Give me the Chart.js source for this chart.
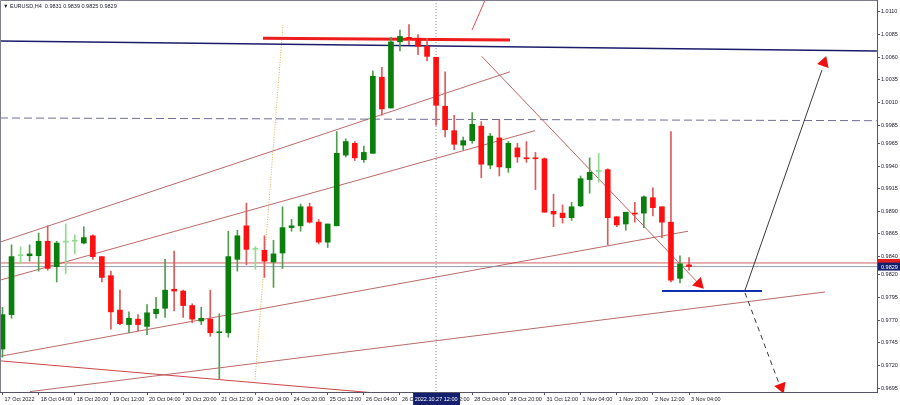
<!DOCTYPE html>
<html><head><meta charset="utf-8">
<script src="https://cdn.jsdelivr.net/npm/chart.js@4/dist/chart.umd.min.js"></script>
<style>html,body{margin:0;padding:0;background:#fff;}#wrap{width:900px;height:405px;position:relative;}</style>
</head><body><div id="wrap"><canvas id="c"></canvas></div>
<script>
const symbolName = 'EURUSD,H4';
const opens  = [0.9738,0.9776,0.9841,0.9841,0.9841,0.9857,0.9829,0.9856,0.9857,0.9855,0.9863,0.9840,0.9819,0.9781,0.9765,0.9771,0.9763,0.9777,0.9783,0.9804,0.9802,0.9786,0.9769,0.9771,0.9756,0.9756,0.9837,0.9874,0.9848,0.9847,0.9834,0.9844,0.9872,0.9874,0.9895,0.9878,0.9856,0.9874,0.9952,0.9965,0.9947,0.9954,1.0038,1.0004,1.0077,1.0082,1.0081,1.0072,1.0060,1.0006,0.9979,0.9963,0.9968,0.9984,0.9941,0.9971,0.9938,0.9960,0.9949,0.9949,0.9948,0.9890,0.9888,0.9883,0.9896,0.9925,0.9934,0.9936,0.9884,0.9876,0.9888,0.9888,0.9905,0.9895,0.9878,0.9816,0.9831];
const highs  = [0.9784,0.9853,0.9851,0.9853,0.9866,0.9874,0.9857,0.9876,0.9864,0.9873,0.9864,0.9840,0.9824,0.9803,0.9779,0.9776,0.9787,0.9795,0.9837,0.9846,0.9803,0.9788,0.9784,0.9803,0.9777,0.9868,0.9869,0.9899,0.9851,0.9863,0.9858,0.9895,0.9881,0.9898,0.9899,0.9881,0.9876,0.9978,0.9970,0.9967,0.9962,1.0045,1.0049,1.0082,1.0090,1.0096,1.0085,1.0081,1.0060,1.0044,0.9996,0.9972,0.9999,0.9989,0.9976,0.9991,0.9967,0.9965,0.9967,0.9955,0.9949,0.9909,0.9897,0.9900,0.9929,0.9949,0.9954,0.9937,0.9884,0.9889,0.9900,0.9907,0.9916,0.9895,0.9978,0.9841,0.9839];
const lows   = [0.9729,0.9772,0.9832,0.9835,0.9824,0.9825,0.9812,0.9821,0.9843,0.9854,0.9837,0.9812,0.9760,0.9765,0.9756,0.9758,0.9754,0.9772,0.9773,0.9780,0.9773,0.9767,0.9765,0.9752,0.9705,0.9751,0.9824,0.9831,0.9826,0.9817,0.9806,0.9827,0.9868,0.9868,0.9877,0.9854,0.9850,0.9874,0.9950,0.9946,0.9944,0.9954,0.9996,1.0004,1.0067,1.0074,1.0063,1.0056,0.9985,0.9972,0.9958,0.9958,0.9965,0.9927,0.9937,0.9929,0.9933,0.9944,0.9944,0.9914,0.9889,0.9873,0.9877,0.9880,0.9895,0.9910,0.9922,0.9853,0.9873,0.9869,0.9878,0.9872,0.9885,0.9861,0.9812,0.9811,0.9825];
const closes = [0.9776,0.9840,0.9841,0.9843,0.9857,0.9827,0.9855,0.9856,0.9857,0.9861,0.9840,0.9817,0.9779,0.9766,0.9772,0.9765,0.9778,0.9782,0.9803,0.9802,0.9786,0.9771,0.9772,0.9756,0.9757,0.9840,0.9863,0.9848,0.9848,0.9835,0.9843,0.9872,0.9874,0.9895,0.9878,0.9856,0.9876,0.9954,0.9967,0.9949,0.9955,1.0039,1.0003,1.0077,1.0083,1.0080,1.0072,1.0061,1.0007,0.9980,0.9964,0.9968,0.9986,0.9942,0.9973,0.9939,0.9965,0.9950,0.9948,0.9948,0.9889,0.9887,0.9883,0.9895,0.9926,0.9933,0.9934,0.9883,0.9875,0.9889,0.9887,0.9906,0.9894,0.9878,0.9814,0.9832,0.9829];
const xTickIndex  = [0,4,8,12,16,20,24,28,32,36,40,44,48,52,56,60,64,68,72,76];
const xTickLabels = ['17 Oct 2022','18 Oct 04:00','18 Oct 20:00','19 Oct 12:00','20 Oct 04:00','20 Oct 20:00','21 Oct 12:00','24 Oct 04:00','24 Oct 20:00','25 Oct 12:00','26 Oct 04:00','26 Oct 20:00','27 Oct 12:00','28 Oct 04:00','28 Oct 20:00','31 Oct 12:00','1 Nov 04:00','1 Nov 20:00','2 Nov 12:00','3 Nov 04:00'];
const yTickValues = [1.0110,1.0085,1.0060,1.0035,1.0010,0.9985,0.9965,0.9940,0.9915,0.9890,0.9865,0.9840,0.9820,0.9795,0.9770,0.9745,0.9720,0.9695];
const bidPrice = 0.9829;
const redLevel = 0.9833;
const crosshairIndex = 48;
const crosshairLabel = '2022.10.27 12:00';
// drawn objects: endpoints as [bar index, price]
const navyLine      = [[-0.28,1.0078],[96.8,1.0067]];
const redTopLine    = [[28.84,1.0081],[56.18,1.0079]];
const dashedLevel   = [[-0.28,0.9993],[96.8,0.9990]];
const channelUpper  = [[-0.28,0.9856],[56.18,1.0044]];
const channelMiddle = [[-0.28,0.9814],[58.95,0.9979]];
const channelLower  = [[-0.28,0.9730],[75.89,0.9868]];
const channelBottom = [[3.04,0.9691],[91.06,0.9801]];
const fallingLeft   = [[-0.28,0.9725],[40.7,0.9690]];
const downTrend     = [[53.05,1.0061],[77.1,0.9810]];
const topStub       = [[51.98,1.0090],[53.42,1.0123]];
const dottedFan     = [[31.05,1.0096],[27.95,0.9704]];
const blueLevel     = [[73.01,0.9802],[84.08,0.9802]];
const upPath        = [[82.2,0.9803],[90.72,1.0046]];
const downPath      = [[82.2,0.9800],[85.96,0.9700]];
const arrowPoints   = [[90.94,1.0054],[86.2,0.9696],[77.1,0.9810]];
const arrowAngles   = [19,159,136];

const X_MIN = -0.277, X_MAX = 96.81, Y_MIN = 0.96906, Y_MAX = 1.01232;
const FONT = {family:'Liberation Sans', size:5.5};

const bodyData = opens.map((o,i)=>({x:i, y:[o, closes[i]]}));
const wickData = opens.map((o,i)=>({x:i, y:[lows[i], highs[i]]}));
const bodyColors = opens.map((o,i)=> closes[i]===o ? '#8fdc8f' : (closes[i]>o ? '#0b7f0b' : '#ff1010'));
const wickColors = opens.map((o,i)=> closes[i]===o ? '#8fdc8f' : (closes[i]>o ? '#4f9f4f' : '#e05a5a'));

function seg(pts, color, width, dash, order){
  return {type:'line', data: pts.map(p=>({x:p[0], y:p[1]})), borderColor:color, borderWidth:width,
    borderDash:dash||[], pointRadius:0, pointHoverRadius:0, fill:false, tension:0, order:order||5};
}
const fullLevel = v => [[X_MIN, v],[X_MAX, v]];

const overlay = {
  id:'overlay',
  afterDraw(chart){
    const {ctx, chartArea:a, scales:{x, y}} = chart;
    ctx.save();
    ctx.strokeStyle = '#7d7d8c'; ctx.lineWidth = 1;
    ctx.beginPath(); ctx.moveTo(a.left+0.5, a.bottom); ctx.lineTo(a.left+0.5, a.top+0.5); ctx.lineTo(a.right, a.top+0.5); ctx.stroke();
    const n = opens.length-1;
    ctx.fillStyle = '#1a1a2a';
    ctx.font = '5.5px "Liberation Sans"';
    ctx.textBaseline = 'middle'; ctx.textAlign = 'left';
    ctx.fillText('\u25BC ' + symbolName + '  ' + [opens[n],highs[n],lows[n],closes[n]].map(v=>v.toFixed(4)).join(' '), 3, 6);
    const boxW = 22, boxH = 8;
    const yr = y.getPixelForValue(redLevel);
    ctx.fillStyle = '#e02020'; ctx.fillRect(a.right+1, yr-boxH/2, boxW, boxH);
    const yb = y.getPixelForValue(bidPrice);
    ctx.fillStyle = '#14206e'; ctx.fillRect(a.right+1, yb-boxH/2, boxW, boxH);
    ctx.fillStyle = '#ffffff'; ctx.fillText(bidPrice.toFixed(4), a.right+4, yb+0.5);
    const xc = x.getPixelForValue(crosshairIndex);
    ctx.fillStyle = '#14206e'; ctx.fillRect(xc-23, a.bottom+1, 47, 12);
    ctx.fillStyle = '#ffffff'; ctx.textAlign='center'; ctx.fillText(crosshairLabel, xc, a.bottom+7);
    ctx.restore();
  }
};

new Chart(document.getElementById('c'), {
  type:'bar',
  data:{ datasets:[
    {type:'bar', data:bodyData, backgroundColor:bodyColors, barThickness:5, minBarLength:1, grouped:false, borderWidth:0, order:0},
    {type:'bar', data:wickData, backgroundColor:wickColors, barThickness:1, grouped:false, borderWidth:0, order:1},
    seg(fullLevel(redLevel), 'rgba(200,70,70,0.85)', 1, [], 6),
    seg(fullLevel(bidPrice), 'rgba(140,150,170,0.9)', 1, [], 6),
    seg(navyLine, '#1c1c6a', 1.5, [], 4),
    seg(redTopLine, '#ee1c1c', 3, [], 3),
    seg(dashedLevel, '#6e6e94', 1, [8,4], 6),
    seg(channelUpper, 'rgba(175,80,80,0.85)', 1, [], 6),
    seg(channelMiddle, 'rgba(175,80,80,0.85)', 1, [], 6),
    seg(channelLower, 'rgba(175,80,80,0.85)', 1, [], 6),
    seg(channelBottom, 'rgba(175,80,80,0.85)', 1, [], 6),
    seg(fallingLeft, 'rgba(200,50,50,0.9)', 1, [], 6),
    seg(downTrend, 'rgba(190,80,80,0.9)', 1, [], 6),
    seg(topStub, 'rgba(220,60,60,0.9)', 1, [], 6),
    seg(dottedFan, '#dcae55', 1, [1,1.5], 6),
    seg([[crosshairIndex, Y_MAX],[crosshairIndex, Y_MIN]], '#8a8a99', 1, [1,2], 6),
    seg(blueLevel, '#1030b0', 2, [], 3),
    seg(upPath, '#3a3a3a', 1, [], 3),
    seg(downPath, '#3a3a3a', 1, [5,4], 3),
    {type:'line', data: arrowPoints.map(p=>({x:p[0], y:p[1]})), showLine:false, pointStyle:'triangle',
      pointRadius:7, pointRotation:arrowAngles, pointBackgroundColor:'#ee1111', pointBorderColor:'#ee1111', pointBorderWidth:0, order:-1}
  ]},
  options:{
    responsive:true, maintainAspectRatio:false, animation:false, devicePixelRatio:1,
    layout:{padding:0, autoPadding:false},
    events:[],
    plugins:{legend:{display:false}, tooltip:{enabled:false}},
    scales:{
      x:{type:'linear', position:'bottom', min:X_MIN, max:X_MAX, offset:false,
        grid:{display:true, drawOnChartArea:false, drawTicks:true, tickLength:3, color:'#555566', offset:false},
        border:{display:true, color:'#555566'},
        afterBuildTicks:(s)=>{ s.ticks = xTickIndex.map(v=>({value:v})); },
        ticks:{autoSkip:false, maxRotation:0, minRotation:0, align:'start', labelOffset:2, padding:1, color:'#1a1a2a', font:FONT,
          callback:(v)=>{ const k = xTickIndex.indexOf(v); return k>=0 ? xTickLabels[k] : ''; }},
        afterFit:(s)=>{ s.height = 13; s.paddingLeft=0; s.paddingRight=0; s.paddingTop=0; s.paddingBottom=0; }
      },
      y:{type:'linear', position:'right', min:Y_MIN, max:Y_MAX, beginAtZero:false,
        grid:{display:true, drawOnChartArea:false, drawTicks:true, tickLength:3, color:'#555566'},
        border:{display:true, color:'#555566'},
        afterBuildTicks:(s)=>{ s.ticks = yTickValues.map(v=>({value:v})); },
        ticks:{autoSkip:false, padding:1, color:'#1a1a2a', font:FONT, callback:(v)=>Number(v).toFixed(4)},
        afterFit:(s)=>{ s.width = 23; s.paddingLeft=0; s.paddingRight=0; s.paddingTop=0; s.paddingBottom=0; }
      }
    }
  },
  plugins:[overlay]
});
</script></body></html>
